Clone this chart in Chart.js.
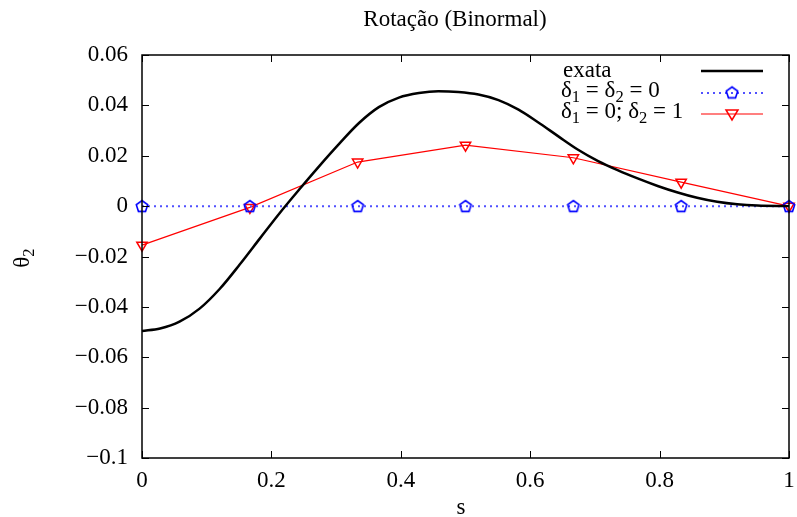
<!DOCTYPE html>
<html>
<head>
<meta charset="utf-8">
<script src="https://cdn.jsdelivr.net/npm/chart.js@4.4.1/dist/chart.umd.min.js"></script>
<style>
html,body{margin:0;padding:0;background:#fff;}
canvas{display:block;}
</style>
</head>
<body>
<canvas id="c" width="797" height="517"></canvas>
<script>
// ---- data ----
const sExact = [0, 0.028, 0.058, 0.089, 0.12, 0.151, 0.182, 0.212, 0.243, 0.274, 0.305, 0.335, 0.366, 0.397, 0.428, 0.458, 0.489, 0.52, 0.551, 0.582, 0.612, 0.643, 0.674, 0.705, 0.735, 0.766, 0.797, 0.828, 0.858, 0.889, 0.92, 0.951, 1.0];
const thetaExact = [-0.0496, -0.0486, -0.0459, -0.0407, -0.0329, -0.0232, -0.0129, -0.0030, 0.0066, 0.0159, 0.0248, 0.0329, 0.0393, 0.0431, 0.0449, 0.0456, 0.0453, 0.0443, 0.0421, 0.0383, 0.0333, 0.0278, 0.0224, 0.0179, 0.0143, 0.0110, 0.0080, 0.0054, 0.0033, 0.0017, 0.0007, 0.0002, 0];
const sNodes = [0, 0.1667, 0.3333, 0.5, 0.6667, 0.8333, 1.0];
const theta00 = [0, 0, 0, 0, 0, 0, 0];
const theta01 = [-0.0155, -0.0005, 0.0175, 0.0242, 0.0192, 0.0095, 0];
const xTicks = [0, 0.2, 0.4, 0.6, 0.8, 1];
const yTicks = [-0.1, -0.08, -0.06, -0.04, -0.02, 0, 0.02, 0.04, 0.06];
const titleText = 'Rotação (Binormal)';
const xLabel = 's';
const yLabel = 'θ_2';
const legendLabels = ['exata', 'δ_1 = δ_2 = 0', 'δ_1 = 0; δ_2 = 1'];

const FONT = '"Liberation Serif", "DejaVu Serif", serif';
const FS = 23;

function pentagonCanvas(color) {
  const c = document.createElement('canvas');
  c.width = 16; c.height = 16;
  const g = c.getContext('2d');
  g.strokeStyle = color; g.lineWidth = 1.6;
  g.beginPath();
  for (let i = 0; i < 5; i++) {
    const a = -Math.PI / 2 + i * 2 * Math.PI / 5;
    const x = 8 + 6 * Math.cos(a), y = 8.5 + 6 * Math.sin(a);
    if (i === 0) g.moveTo(x, y); else g.lineTo(x, y);
  }
  g.closePath(); g.stroke();
  return c;
}
const pent = pentagonCanvas('#0000ff');

function fmt(v) {
  const r = Math.round(v * 100) / 100;
  let s = String(r);
  if (r === 0) s = '0';
  return s.replace('-', '\u2212');
}

function subWidth(ctx, str, size) {
  let w = 0;
  for (const p of str.split(/(_\d)/)) {
    if (!p) continue;
    if (p[0] === '_') { ctx.font = (size * 0.72) + 'px ' + FONT; w += ctx.measureText(p[1]).width; }
    else { ctx.font = size + 'px ' + FONT; w += ctx.measureText(p).width; }
  }
  return w;
}
function drawSub(ctx, str, x, y, size) {
  let cx = x;
  for (const p of str.split(/(_\d)/)) {
    if (!p) continue;
    if (p[0] === '_') {
      ctx.font = (size * 0.72) + 'px ' + FONT;
      ctx.fillText(p[1], cx, y + size * 0.28);
      cx += ctx.measureText(p[1]).width;
    } else {
      ctx.font = size + 'px ' + FONT;
      ctx.fillText(p, cx, y);
      cx += ctx.measureText(p).width;
    }
  }
}

const decor = {
  id: 'decor',
  afterDraw(chart) {
    const ctx = chart.ctx;
    const a = chart.chartArea;
    const xs = chart.scales.x, ys = chart.scales.y;
    ctx.save();
    ctx.strokeStyle = '#000'; ctx.lineWidth = 1.5;
    ctx.strokeRect(a.left, a.top, a.right - a.left, a.bottom - a.top);
    const TL = 7;
    ctx.lineWidth = 1;
    ctx.beginPath();
    for (const v of xTicks) {
      const px = Math.round(xs.getPixelForValue(v)) + 0.5;
      ctx.moveTo(px, a.bottom); ctx.lineTo(px, a.bottom - TL);
      ctx.moveTo(px, a.top); ctx.lineTo(px, a.top + TL);
    }
    for (const v of yTicks) {
      const py = Math.round(ys.getPixelForValue(v)) + 0.5;
      ctx.moveTo(a.left, py); ctx.lineTo(a.left + TL, py);
      ctx.moveTo(a.right, py); ctx.lineTo(a.right - TL, py);
    }
    ctx.stroke();
    ctx.fillStyle = '#000';
    ctx.font = FS + 'px ' + FONT;
    ctx.textAlign = 'center'; ctx.textBaseline = 'middle';
    ctx.fillText(titleText, 455, 20);
    ctx.fillText(xLabel, 461, 508);
    ctx.save();
    ctx.translate(25, 258);
    ctx.rotate(-Math.PI / 2);
    ctx.textAlign = 'left';
    const w = subWidth(ctx, yLabel, FS);
    drawSub(ctx, yLabel, -w / 2, -2, FS);
    ctx.restore();
    ctx.textAlign = 'left'; ctx.textBaseline = 'middle';
    const rows = [71, 93, 114];
    const lx0 = 701, lx1 = 763, tx = 561, mx = 732;
    drawSub(ctx, legendLabels[0], tx + 2, rows[0], FS);
    drawSub(ctx, legendLabels[1], tx, rows[1] - 2, FS);
    drawSub(ctx, legendLabels[2], tx, rows[2] - 2, FS);
    ctx.lineWidth = 2.5; ctx.strokeStyle = '#000'; ctx.setLineDash([]);
    ctx.beginPath(); ctx.moveTo(lx0, rows[0]); ctx.lineTo(lx1, rows[0]); ctx.stroke();
    ctx.lineWidth = 2; ctx.strokeStyle = '#5050ff'; ctx.setLineDash([2, 4]);
    ctx.beginPath(); ctx.moveTo(lx0, rows[1]); ctx.lineTo(lx1, rows[1]); ctx.stroke();
    ctx.setLineDash([]);
    ctx.drawImage(pent, mx - 8, rows[1] - 8.5);
    ctx.lineWidth = 1.2; ctx.strokeStyle = '#ff0000';
    ctx.beginPath(); ctx.moveTo(lx0, rows[2]); ctx.lineTo(lx1, rows[2]); ctx.stroke();
    ctx.lineWidth = 1.5;
    ctx.beginPath();
    ctx.moveTo(mx - 6, rows[2] - 4); ctx.lineTo(mx + 6, rows[2] - 4); ctx.lineTo(mx, rows[2] + 6); ctx.closePath();
    ctx.stroke();
    ctx.restore();
  }
};

new Chart(document.getElementById('c'), {
  type: 'line',
  data: {
    datasets: [
      {
        label: legendLabels[0],
        data: sExact.map((s, i) => ({ x: s, y: thetaExact[i] })),
        borderColor: '#000', borderWidth: 2.5, pointRadius: 0,
        cubicInterpolationMode: 'monotone', fill: false
      },
      {
        label: legendLabels[1],
        data: sNodes.map((s, i) => ({ x: s, y: theta00[i] })),
        borderColor: '#5050ff', borderWidth: 2, borderDash: [2, 4],
        pointStyle: pent, pointRadius: 6, tension: 0, fill: false
      },
      {
        label: legendLabels[2],
        data: sNodes.map((s, i) => ({ x: s, y: theta01[i] })),
        borderColor: '#ff0000', borderWidth: 1.2,
        pointStyle: 'triangle', rotation: 180, pointRadius: 6,
        pointBorderColor: '#ff0000', pointBorderWidth: 1.5,
        pointBackgroundColor: 'rgba(0,0,0,0)', tension: 0, fill: false
      }
    ]
  },
  options: {
    responsive: false,
    animation: false,
    clip: false,
    layout: { padding: { top: 55, right: 4, left: 0, bottom: 0 } },
    plugins: { legend: { display: false }, title: { display: false }, tooltip: { enabled: false } },
    scales: {
      x: {
        type: 'linear', min: 0, max: 1,
        afterBuildTicks: s => { s.ticks = xTicks.map(v => ({ value: v })); },
        afterFit: s => { s.height = 59; s.paddingLeft = 0; s.paddingRight = 0; },
        grid: { display: false, drawTicks: false },
        border: { display: false },
        ticks: { color: '#000', padding: 9, font: { family: FONT, size: FS }, callback: v => fmt(v), maxRotation: 0 }
      },
      y: {
        type: 'linear', min: -0.1, max: 0.06,
        afterBuildTicks: s => { s.ticks = yTicks.map(v => ({ value: v })); },
        afterFit: s => { s.width = 142; s.paddingTop = 0; s.paddingBottom = 0; },
        grid: { display: false, drawTicks: false },
        border: { display: false },
        ticks: { color: '#000', padding: 14, font: { family: FONT, size: FS }, callback: v => fmt(v) }
      }
    }
  },
  plugins: [decor]
});
</script>
</body>
</html>
